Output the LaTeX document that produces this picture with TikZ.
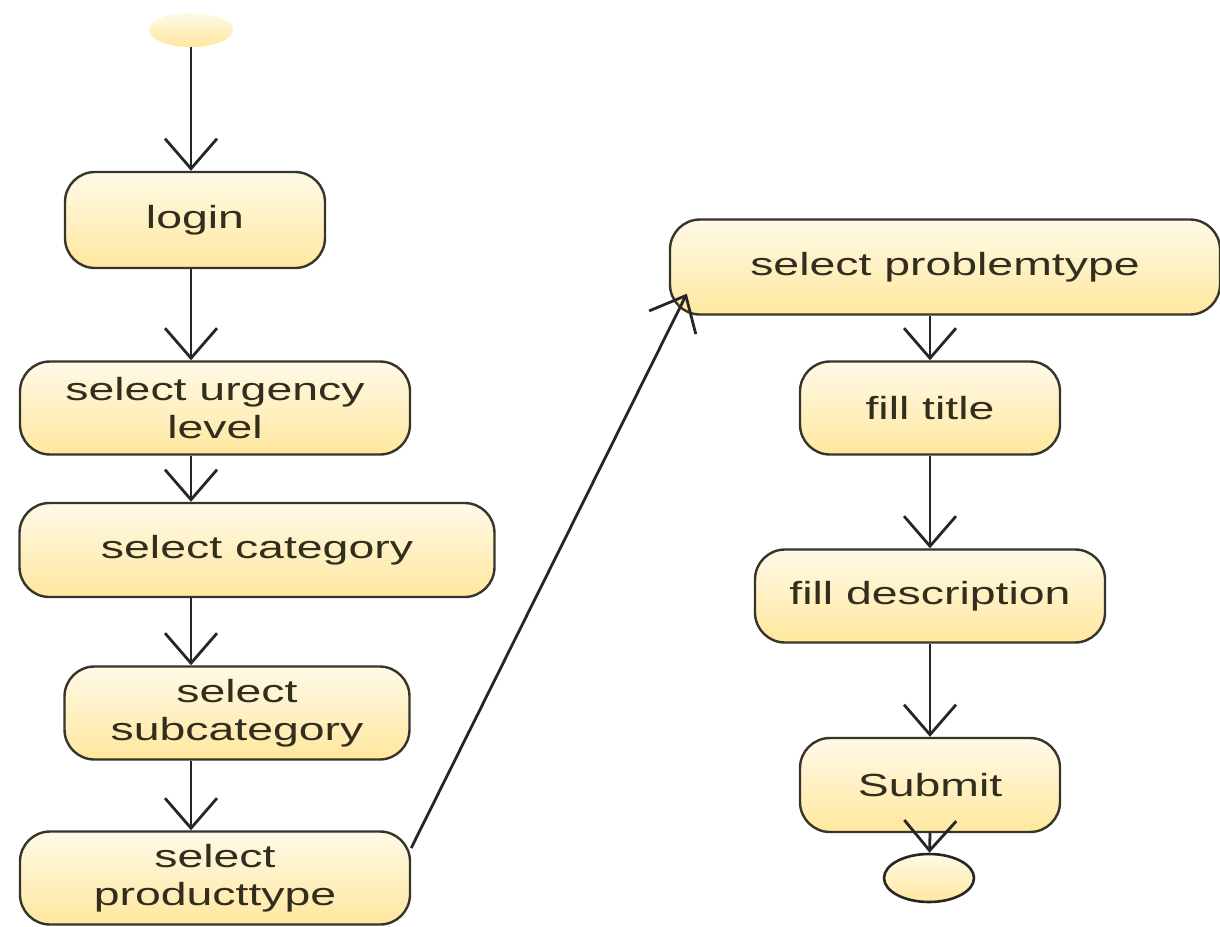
\documentclass[tikz,border=0pt]{standalone}
\usepackage{fontspec}
\setmainfont[FakeStretch=1.45]{Liberation Sans}
\usetikzlibrary{shapes.geometric,arrows.meta,positioning}
\definecolor{actlight}{RGB}{255,250,232}
\definecolor{actdark}{RGB}{255,231,158}
\definecolor{actline}{RGB}{55,52,42}
\definecolor{acttext}{RGB}{50,46,30}

\begin{document}
\begin{tikzpicture}[
        x=1pt, y=-1pt,
        act/.style={rectangle, rounded corners=30pt, draw=actline, line width=2.4pt, top color=actlight, bottom color=actdark, align=center, minimum height=93pt, text=acttext, font=\fontsize{32}{38}\selectfont},
        arrow/.style={-{Straight Barb[length=30pt, width=52pt, line width=2.8pt]}, line width=2.8pt, draw=black!85},
        startdot/.style={ellipse, top color=actlight, bottom color=actdark, minimum width=84pt, minimum height=34pt, inner sep=0pt},
        enddot/.style={ellipse, draw=black!85, line width=2.6pt, top color=actlight, bottom color=actdark, minimum width=90pt, minimum height=48pt, inner sep=0pt}
    ]
        \useasboundingbox (0,0) rectangle (1220,926);

        % Left column
        \node[startdot] (start) at (191,30) {};
        \node[act, minimum width=260pt, minimum height=96pt] (login) at (195,220) {login};
        \node[act, minimum width=390pt] (urgency) at (215,408) {select urgency\\level};
        \node[act, minimum width=475pt, minimum height=94pt] (category) at (257,550) {select category};
        \node[act, minimum width=345pt] (subcat) at (237,713) {select\\subcategory};
        \node[act, minimum width=390pt] (prodtype) at (215,878) {select\\producttype};

        % Right column
        \node[act, minimum width=550pt, minimum height=95pt] (probtype) at (945,267) {select problemtype};
        \node[act, minimum width=260pt] (title) at (930,408) {fill title};
        \node[act, minimum width=350pt] (desc) at (930,596) {fill description};
        \node[act, minimum width=260pt, minimum height=94pt] (submit) at (930,785) {Submit};
        \node[enddot] (final) at (929,878) {};

        % Flow left
        \draw[arrow] (start) -- (start |- login.north);
        \draw[arrow] (start |- login.south) -- (start |- urgency.north);
        \draw[arrow] (start |- urgency.south) -- (start |- category.north);
        \draw[arrow] (start |- category.south) -- (start |- subcat.north);
        \draw[arrow] (start |- subcat.south) -- (start |- prodtype.north);

        % Jump to right column
        \draw[arrow] ([yshift=30pt]prodtype.east) -- ([shift={(18pt,22pt)}]probtype.south west);

        % Flow right
        \draw[arrow] (title |- probtype.south) -- (title.north);
        \draw[arrow] (title.south) -- (desc.north);
        \draw[arrow] (desc.south) -- (submit.north);
        \draw[arrow] (submit.south) -- (final);

    \end{tikzpicture}
\end{document}
